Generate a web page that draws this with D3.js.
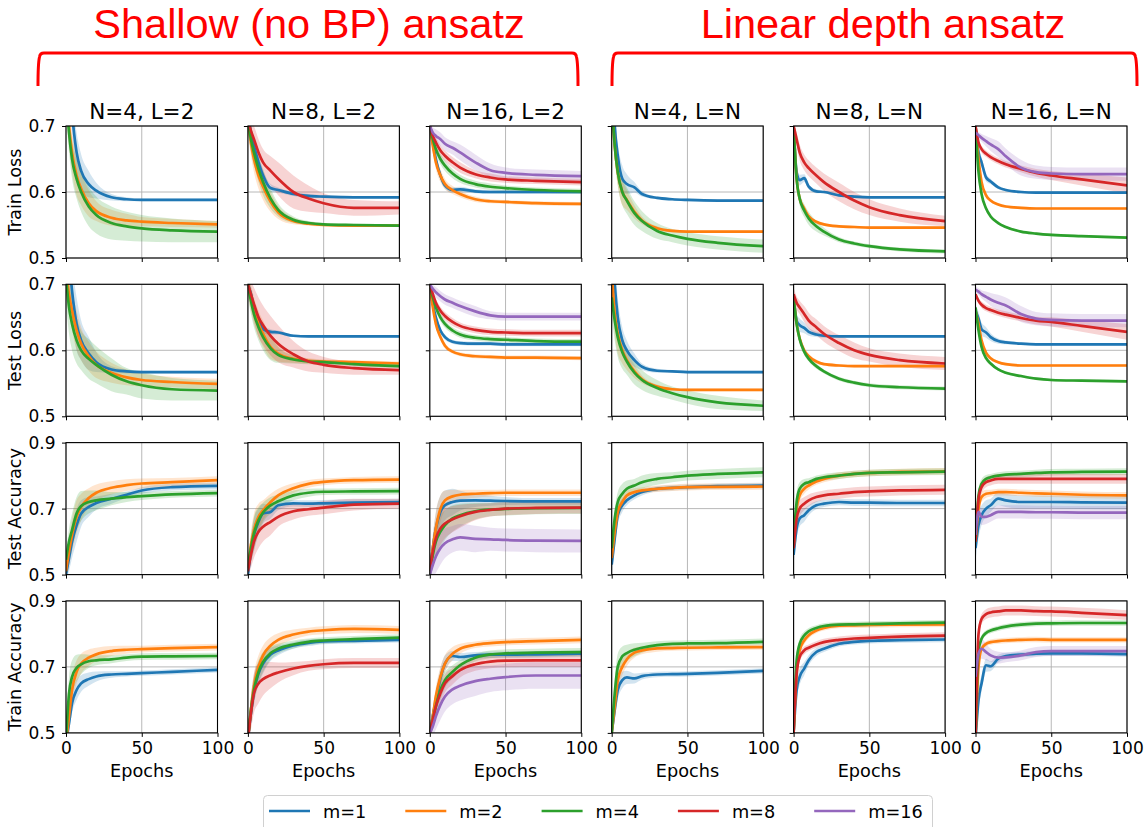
<!DOCTYPE html>
<html><head><meta charset="utf-8">
<script src="https://cdn.jsdelivr.net/npm/d3@7"></script>
<style>body{margin:0;background:#fff} svg{display:block}</style>
</head><body><svg id="c" width="1145" height="827"></svg>
<script>
// ---------------- DATA ----------------
const epochs = [0,2,4,7,10,15,20,30,40,50,70,100];
const mLabels = ["m=1","m=2","m=4","m=8","m=16"];
const colors = ["#1f77b4","#ff7f0e","#2ca02c","#d62728","#9467bd"];
const colTitles = ["N=4, L=2","N=8, L=2","N=16, L=2","N=4, L=N","N=8, L=N","N=16, L=N"];
const groupTitles = ["Shallow (no BP) ansatz","Linear depth ansatz"];
const rowLabels = ["Train Loss","Test Loss","Test Accuracy","Train Accuracy"];
const lossTicks = [0.5,0.6,0.7];
const accTicks = [0.5,0.7,0.9];
const epochTicks = [0,50,100];
const xLabel = "Epochs";

const trainLoss_c1 = [
 [0.85,0.78,0.72,0.66,0.632,0.612,0.602,0.592,0.589,0.588,0.588,0.588],
 [0.76,0.70,0.66,0.625,0.605,0.583,0.571,0.561,0.557,0.555,0.553,0.551],
 [0.75,0.69,0.65,0.62,0.60,0.578,0.565,0.553,0.548,0.545,0.542,0.540]];
const trainLoss_c2 = [
 [0.72,0.69,0.67,0.645,0.625,0.606,0.603,0.597,0.594,0.593,0.592,0.592],
 [0.71,0.675,0.65,0.625,0.608,0.585,0.569,0.556,0.552,0.550,0.549,0.549],
 [0.71,0.68,0.66,0.635,0.615,0.59,0.573,0.558,0.553,0.551,0.550,0.549],
 [0.71,0.693,0.68,0.66,0.645,0.632,0.62,0.60,0.59,0.583,0.576,0.576]];
const trainLoss_c3 = [
 [0.70,0.675,0.65,0.625,0.61,0.603,0.604,0.601,0.600,0.600,0.600,0.600],
 [0.70,0.67,0.645,0.625,0.612,0.603,0.597,0.589,0.586,0.585,0.583,0.582],
 [0.70,0.68,0.665,0.65,0.64,0.628,0.62,0.612,0.608,0.606,0.603,0.601],
 [0.70,0.685,0.675,0.663,0.655,0.645,0.637,0.627,0.622,0.619,0.617,0.615],
 [0.70,0.69,0.685,0.68,0.673,0.667,0.66,0.645,0.633,0.629,0.626,0.624]];
const trainLoss_c4 = [
 [0.80,0.70,0.655,0.62,0.612,0.607,0.597,0.591,0.589,0.588,0.587,0.587],
 [0.74,0.67,0.63,0.60,0.588,0.57,0.557,0.545,0.541,0.540,0.540,0.540],
 [0.74,0.67,0.63,0.60,0.587,0.568,0.556,0.541,0.534,0.529,0.523,0.518]];
const trainLoss_c5 = [
 [0.70,0.63,0.618,0.621,0.608,0.601,0.600,0.595,0.593,0.592,0.592,0.592],
 [0.70,0.62,0.59,0.575,0.563,0.555,0.551,0.548,0.547,0.546,0.546,0.546],
 [0.70,0.62,0.59,0.572,0.56,0.548,0.54,0.528,0.522,0.518,0.513,0.510],
 [0.70,0.68,0.66,0.645,0.636,0.625,0.615,0.60,0.587,0.577,0.565,0.556]];
const trainLoss_c6 = [
 [0.70,0.66,0.645,0.622,0.616,0.607,0.603,0.600,0.599,0.599,0.599,0.599],
 [0.70,0.65,0.615,0.595,0.587,0.581,0.578,0.576,0.575,0.575,0.575,0.575],
 [0.70,0.63,0.597,0.575,0.563,0.553,0.547,0.540,0.537,0.535,0.533,0.531],
 [0.70,0.675,0.665,0.658,0.653,0.647,0.642,0.635,0.629,0.625,0.619,0.610],
 [0.69,0.686,0.682,0.677,0.672,0.665,0.654,0.637,0.630,0.628,0.627,0.627]];

const testLoss_c1 = [
 [0.80,0.74,0.69,0.64,0.615,0.595,0.582,0.571,0.568,0.567,0.567,0.567],
 [0.72,0.685,0.66,0.63,0.61,0.591,0.578,0.566,0.559,0.555,0.552,0.549],
 [0.71,0.665,0.64,0.615,0.60,0.587,0.578,0.563,0.553,0.547,0.541,0.539]];
const testLoss_c2 = [
 [0.70,0.685,0.665,0.645,0.632,0.628,0.627,0.622,0.621,0.621,0.621,0.621],
 [0.70,0.68,0.66,0.64,0.625,0.605,0.595,0.587,0.584,0.583,0.582,0.580],
 [0.70,0.675,0.655,0.635,0.62,0.603,0.593,0.586,0.583,0.582,0.579,0.576],
 [0.70,0.685,0.67,0.65,0.638,0.622,0.61,0.594,0.583,0.578,0.573,0.570]];
const testLoss_c3 = [
 [0.70,0.67,0.65,0.63,0.62,0.613,0.611,0.61,0.61,0.609,0.609,0.609],
 [0.70,0.665,0.64,0.62,0.607,0.598,0.594,0.591,0.59,0.589,0.589,0.588],
 [0.70,0.68,0.665,0.65,0.64,0.63,0.624,0.619,0.617,0.616,0.614,0.613],
 [0.70,0.685,0.672,0.66,0.652,0.643,0.637,0.631,0.628,0.627,0.626,0.626],
 [0.70,0.693,0.688,0.682,0.677,0.672,0.667,0.659,0.653,0.651,0.651,0.651]];
const testLoss_c4 = [
 [0.78,0.70,0.65,0.615,0.60,0.585,0.575,0.569,0.568,0.567,0.567,0.567],
 [0.72,0.655,0.625,0.60,0.585,0.568,0.556,0.545,0.541,0.540,0.540,0.540],
 [0.68,0.645,0.62,0.597,0.583,0.566,0.555,0.543,0.535,0.529,0.521,0.516]];
const testLoss_c5 = [
 [0.68,0.645,0.638,0.634,0.628,0.624,0.622,0.621,0.621,0.621,0.621,0.621],
 [0.68,0.64,0.618,0.60,0.591,0.583,0.579,0.577,0.576,0.576,0.576,0.576],
 [0.68,0.64,0.617,0.598,0.587,0.576,0.568,0.557,0.551,0.547,0.544,0.542],
 [0.685,0.672,0.665,0.655,0.645,0.635,0.625,0.611,0.60,0.593,0.585,0.580]];
const testLoss_c6 = [
 [0.66,0.648,0.632,0.627,0.62,0.614,0.612,0.61,0.609,0.609,0.609,0.609],
 [0.66,0.64,0.615,0.596,0.588,0.582,0.579,0.577,0.577,0.577,0.577,0.577],
 [0.665,0.63,0.605,0.588,0.58,0.571,0.566,0.561,0.557,0.555,0.554,0.553],
 [0.685,0.675,0.669,0.664,0.661,0.657,0.654,0.649,0.645,0.643,0.637,0.628],
 [0.692,0.689,0.685,0.681,0.677,0.672,0.668,0.655,0.648,0.646,0.645,0.645]];

const testAcc_c1 = [
 [0.50,0.55,0.60,0.65,0.685,0.705,0.717,0.73,0.742,0.755,0.765,0.769],
 [0.51,0.57,0.62,0.675,0.705,0.732,0.748,0.763,0.771,0.776,0.780,0.786],
 [0.545,0.60,0.635,0.685,0.708,0.72,0.725,0.73,0.735,0.738,0.743,0.747]];
const testAcc_c2 = [
 [0.50,0.57,0.62,0.66,0.685,0.69,0.71,0.716,0.715,0.716,0.718,0.72],
 [0.52,0.59,0.635,0.675,0.695,0.72,0.74,0.762,0.775,0.781,0.786,0.788],
 [0.52,0.58,0.625,0.665,0.688,0.71,0.722,0.74,0.748,0.751,0.752,0.753],
 [0.51,0.56,0.60,0.63,0.645,0.66,0.675,0.692,0.698,0.703,0.712,0.715]];
const testAcc_c3 = [
 [0.51,0.58,0.64,0.69,0.71,0.72,0.724,0.725,0.724,0.723,0.722,0.722],
 [0.51,0.58,0.64,0.70,0.725,0.737,0.742,0.745,0.747,0.748,0.748,0.748],
 [0.50,0.56,0.60,0.63,0.65,0.67,0.68,0.692,0.697,0.699,0.701,0.702],
 [0.51,0.57,0.61,0.64,0.655,0.668,0.677,0.69,0.696,0.70,0.702,0.703],
 [0.50,0.53,0.555,0.58,0.595,0.607,0.613,0.608,0.607,0.605,0.603,0.602]];
const testAcc_c4 = [
 [0.53,0.61,0.68,0.71,0.725,0.74,0.75,0.76,0.763,0.765,0.768,0.77],
 [0.55,0.63,0.69,0.72,0.74,0.75,0.755,0.76,0.763,0.765,0.766,0.767],
 [0.58,0.67,0.72,0.745,0.76,0.77,0.78,0.79,0.795,0.80,0.805,0.81]];
const testAcc_c5 = [
 [0.56,0.64,0.67,0.68,0.695,0.71,0.715,0.72,0.718,0.718,0.717,0.717],
 [0.58,0.70,0.74,0.76,0.77,0.782,0.79,0.80,0.805,0.808,0.811,0.813],
 [0.60,0.72,0.76,0.775,0.78,0.79,0.795,0.80,0.805,0.808,0.81,0.812],
 [0.58,0.67,0.70,0.715,0.725,0.735,0.74,0.745,0.75,0.752,0.755,0.757]];
const testAcc_c6 = [
 [0.58,0.65,0.68,0.70,0.71,0.73,0.725,0.72,0.72,0.72,0.719,0.718],
 [0.60,0.70,0.735,0.745,0.747,0.75,0.75,0.748,0.746,0.745,0.742,0.74],
 [0.60,0.74,0.775,0.79,0.795,0.80,0.803,0.805,0.808,0.81,0.811,0.812],
 [0.60,0.73,0.765,0.78,0.785,0.79,0.79,0.79,0.79,0.79,0.79,0.79],
 [0.62,0.69,0.675,0.675,0.68,0.69,0.69,0.69,0.689,0.689,0.688,0.688]];

const trainAcc_c1 = [
 [0.47,0.53,0.59,0.63,0.65,0.663,0.671,0.677,0.679,0.681,0.685,0.691],
 [0.47,0.55,0.63,0.685,0.71,0.728,0.738,0.748,0.752,0.754,0.757,0.760],
 [0.48,0.62,0.67,0.697,0.708,0.717,0.72,0.723,0.728,0.731,0.732,0.733]];
const trainAcc_c2 = [
 [0.48,0.56,0.625,0.68,0.71,0.738,0.75,0.765,0.773,0.777,0.779,0.782],
 [0.48,0.57,0.64,0.70,0.735,0.765,0.782,0.798,0.807,0.811,0.815,0.812],
 [0.48,0.57,0.63,0.685,0.715,0.742,0.755,0.768,0.776,0.780,0.784,0.789],
 [0.48,0.56,0.62,0.65,0.663,0.675,0.683,0.695,0.703,0.708,0.712,0.712]];
const trainAcc_c3 = [
 [0.50,0.55,0.60,0.665,0.71,0.733,0.73,0.735,0.737,0.737,0.738,0.740],
 [0.50,0.55,0.61,0.67,0.71,0.74,0.755,0.767,0.772,0.775,0.778,0.782],
 [0.50,0.54,0.58,0.63,0.66,0.685,0.705,0.728,0.738,0.741,0.743,0.745],
 [0.50,0.54,0.58,0.62,0.65,0.672,0.69,0.708,0.716,0.719,0.72,0.72],
 [0.50,0.52,0.55,0.585,0.61,0.632,0.643,0.657,0.664,0.669,0.674,0.674]];
const trainAcc_c4 = [
 [0.50,0.57,0.63,0.66,0.668,0.665,0.672,0.677,0.678,0.679,0.682,0.688],
 [0.50,0.58,0.66,0.70,0.723,0.743,0.75,0.756,0.757,0.758,0.759,0.76],
 [0.50,0.62,0.70,0.732,0.742,0.752,0.758,0.766,0.77,0.771,0.772,0.776]];
const trainAcc_c5 = [
 [0.50,0.63,0.67,0.695,0.72,0.745,0.755,0.77,0.776,0.779,0.781,0.783],
 [0.50,0.68,0.75,0.78,0.796,0.81,0.818,0.825,0.826,0.827,0.828,0.829],
 [0.50,0.72,0.77,0.795,0.808,0.818,0.824,0.828,0.829,0.83,0.832,0.834],
 [0.50,0.68,0.73,0.75,0.758,0.768,0.775,0.782,0.786,0.788,0.792,0.795]];
const trainAcc_c6 = [
 [0.48,0.60,0.65,0.705,0.702,0.725,0.733,0.737,0.74,0.741,0.741,0.739],
 [0.48,0.70,0.755,0.77,0.775,0.778,0.78,0.782,0.783,0.782,0.782,0.782],
 [0.48,0.75,0.785,0.803,0.81,0.817,0.822,0.828,0.831,0.832,0.833,0.833],
 [0.48,0.80,0.845,0.86,0.865,0.868,0.871,0.871,0.869,0.868,0.864,0.857],
 [0.67,0.74,0.755,0.745,0.735,0.728,0.729,0.735,0.745,0.748,0.748,0.748]];

const trainLossBand_c1 = [
 [0.03,0.03,0.03,0.03,0.025,0.02,0.012,0.005,0.003,0.002,0.002,0.002],
 [0.03,0.03,0.03,0.03,0.025,0.02,0.015,0.012,0.01,0.007,0.006,0.005],
 [0.03,0.03,0.03,0.03,0.03,0.03,0.028,0.025,0.022,0.02,0.018,0.016]];
const trainLossBand_c2 = [
 [0.01,0.01,0.01,0.01,0.008,0.006,0.004,0.003,0.003,0.002,0.002,0.002],
 [0.02,0.02,0.02,0.02,0.02,0.015,0.01,0.005,0.003,0.002,0.002,0.002],
 [0.02,0.02,0.02,0.02,0.02,0.015,0.01,0.005,0.003,0.002,0.002,0.002],
 [0.01,0.015,0.02,0.02,0.02,0.022,0.025,0.025,0.02,0.015,0.012,0.01]];
const trainLossBand_c3 = [
 [0.004,0.005,0.006,0.006,0.005,0.004,0.004,0.003,0.003,0.003,0.003,0.003],
 [0.01,0.01,0.01,0.01,0.008,0.006,0.005,0.004,0.003,0.003,0.003,0.003],
 [0.005,0.006,0.007,0.008,0.008,0.007,0.006,0.005,0.005,0.004,0.004,0.004],
 [0.005,0.005,0.008,0.008,0.008,0.008,0.008,0.006,0.006,0.005,0.005,0.005],
 [0.005,0.008,0.01,0.01,0.01,0.01,0.012,0.012,0.01,0.008,0.008,0.008]];
const trainLossBand_c4 = [
 [0.03,0.03,0.02,0.02,0.015,0.008,0.004,0.002,0.002,0.002,0.002,0.002],
 [0.02,0.02,0.02,0.02,0.015,0.01,0.006,0.003,0.002,0.002,0.002,0.002],
 [0.02,0.02,0.02,0.02,0.02,0.018,0.015,0.012,0.01,0.01,0.01,0.01]];
const trainLossBand_c5 = [
 [0.01,0.01,0.008,0.006,0.004,0.003,0.002,0.002,0.002,0.002,0.002,0.002],
 [0.005,0.005,0.005,0.004,0.003,0.002,0.002,0.002,0.002,0.002,0.002,0.002],
 [0.01,0.01,0.01,0.01,0.01,0.008,0.006,0.004,0.003,0.003,0.003,0.003],
 [0.005,0.01,0.012,0.012,0.012,0.012,0.013,0.014,0.013,0.012,0.01,0.008]];
const trainLossBand_c6 = [
 [0.01,0.01,0.008,0.006,0.004,0.003,0.002,0.002,0.002,0.002,0.002,0.002],
 [0.003,0.003,0.003,0.002,0.002,0.002,0.002,0.002,0.002,0.002,0.002,0.002],
 [0.003,0.003,0.003,0.002,0.002,0.002,0.002,0.002,0.002,0.002,0.002,0.002],
 [0.003,0.004,0.005,0.005,0.005,0.005,0.005,0.005,0.006,0.007,0.009,0.012],
 [0.005,0.005,0.006,0.008,0.01,0.012,0.012,0.012,0.01,0.01,0.01,0.01]];

const testLossBand_c1 = [
 [0.04,0.04,0.04,0.04,0.03,0.025,0.015,0.005,0.003,0.002,0.002,0.002],
 [0.03,0.03,0.03,0.03,0.025,0.022,0.02,0.015,0.012,0.01,0.008,0.008],
 [0.04,0.04,0.04,0.035,0.03,0.03,0.028,0.025,0.02,0.02,0.017,0.015]];
const testLossBand_c2 = [
 [0.01,0.01,0.01,0.008,0.006,0.004,0.003,0.002,0.002,0.002,0.002,0.002],
 [0.02,0.02,0.02,0.02,0.02,0.018,0.012,0.006,0.004,0.003,0.003,0.003],
 [0.02,0.02,0.02,0.02,0.02,0.018,0.012,0.006,0.004,0.003,0.003,0.003],
 [0.01,0.02,0.025,0.03,0.03,0.03,0.028,0.02,0.015,0.012,0.01,0.007]];
const testLossBand_c3 = [
 [0.005,0.005,0.005,0.005,0.004,0.003,0.003,0.003,0.003,0.003,0.003,0.003],
 [0.006,0.006,0.006,0.005,0.004,0.003,0.003,0.003,0.003,0.003,0.003,0.003],
 [0.005,0.006,0.006,0.006,0.006,0.005,0.005,0.004,0.004,0.004,0.004,0.004],
 [0.005,0.006,0.006,0.006,0.006,0.006,0.005,0.005,0.005,0.005,0.005,0.005],
 [0.005,0.006,0.008,0.008,0.008,0.008,0.008,0.008,0.006,0.006,0.006,0.006]];
const testLossBand_c4 = [
 [0.04,0.04,0.03,0.02,0.015,0.01,0.005,0.003,0.002,0.002,0.002,0.002],
 [0.03,0.03,0.03,0.02,0.015,0.01,0.006,0.003,0.002,0.002,0.002,0.002],
 [0.03,0.03,0.03,0.025,0.02,0.018,0.015,0.012,0.01,0.01,0.01,0.008]];
const testLossBand_c5 = [
 [0.01,0.01,0.01,0.008,0.006,0.004,0.003,0.002,0.002,0.002,0.002,0.002],
 [0.005,0.005,0.005,0.004,0.003,0.003,0.002,0.002,0.002,0.002,0.002,0.002],
 [0.005,0.005,0.005,0.005,0.004,0.004,0.003,0.003,0.003,0.003,0.003,0.003],
 [0.01,0.01,0.01,0.012,0.012,0.012,0.012,0.012,0.012,0.01,0.01,0.01]];
const testLossBand_c6 = [
 [0.01,0.01,0.01,0.008,0.006,0.004,0.003,0.002,0.002,0.002,0.002,0.002],
 [0.004,0.004,0.004,0.004,0.003,0.002,0.002,0.002,0.002,0.002,0.002,0.002],
 [0.004,0.004,0.004,0.004,0.003,0.002,0.002,0.002,0.002,0.002,0.002,0.002],
 [0.003,0.004,0.005,0.005,0.005,0.005,0.005,0.005,0.006,0.007,0.009,0.012],
 [0.005,0.005,0.006,0.008,0.01,0.012,0.012,0.012,0.01,0.01,0.01,0.01]];

const testAccBand_c1 = [
 [0.02,0.04,0.05,0.05,0.04,0.03,0.02,0.015,0.01,0.01,0.01,0.01],
 [0.02,0.04,0.05,0.05,0.04,0.03,0.025,0.02,0.018,0.015,0.013,0.012],
 [0.02,0.04,0.05,0.05,0.045,0.035,0.03,0.02,0.015,0.012,0.01,0.01]];
const testAccBand_c2 = [
 [0.02,0.04,0.05,0.04,0.03,0.02,0.015,0.01,0.01,0.01,0.01,0.01],
 [0.02,0.04,0.05,0.04,0.03,0.025,0.02,0.015,0.012,0.01,0.01,0.01],
 [0.02,0.04,0.05,0.04,0.03,0.025,0.02,0.015,0.012,0.01,0.01,0.01],
 [0.02,0.04,0.05,0.05,0.045,0.04,0.03,0.025,0.02,0.02,0.018,0.015]];
const testAccBand_c3 = [
 [0.02,0.04,0.05,0.05,0.045,0.04,0.03,0.02,0.015,0.012,0.01,0.01],
 [0.02,0.04,0.05,0.04,0.03,0.02,0.015,0.012,0.01,0.01,0.01,0.01],
 [0.02,0.04,0.05,0.05,0.045,0.04,0.035,0.025,0.02,0.02,0.018,0.018],
 [0.02,0.04,0.05,0.05,0.045,0.04,0.035,0.025,0.02,0.02,0.018,0.018],
 [0.02,0.04,0.05,0.05,0.045,0.04,0.04,0.04,0.035,0.035,0.035,0.035]];
const testAccBand_c4 = [
 [0.03,0.03,0.03,0.02,0.015,0.012,0.01,0.008,0.008,0.008,0.008,0.008],
 [0.03,0.03,0.03,0.02,0.015,0.012,0.01,0.01,0.01,0.01,0.01,0.01],
 [0.03,0.03,0.03,0.03,0.025,0.02,0.02,0.018,0.015,0.015,0.015,0.015]];
const testAccBand_c5 = [
 [0.03,0.03,0.025,0.02,0.015,0.012,0.01,0.01,0.01,0.01,0.01,0.01],
 [0.03,0.03,0.02,0.015,0.012,0.01,0.01,0.01,0.01,0.01,0.01,0.01],
 [0.03,0.03,0.02,0.015,0.012,0.01,0.01,0.01,0.01,0.01,0.01,0.01],
 [0.03,0.03,0.025,0.02,0.018,0.015,0.015,0.015,0.015,0.015,0.015,0.015]];
const testAccBand_c6 = [
 [0.04,0.04,0.03,0.025,0.02,0.02,0.02,0.02,0.02,0.02,0.02,0.02],
 [0.03,0.02,0.015,0.012,0.01,0.01,0.01,0.01,0.01,0.01,0.01,0.01],
 [0.03,0.02,0.015,0.012,0.01,0.01,0.01,0.01,0.01,0.01,0.01,0.01],
 [0.03,0.02,0.018,0.015,0.015,0.015,0.015,0.015,0.015,0.015,0.015,0.015],
 [0.03,0.03,0.025,0.022,0.02,0.02,0.02,0.02,0.02,0.02,0.02,0.02]];

const trainAccBand_c1 = [
 [0.02,0.03,0.03,0.03,0.025,0.02,0.015,0.01,0.008,0.008,0.008,0.008],
 [0.03,0.04,0.04,0.035,0.03,0.025,0.02,0.015,0.012,0.01,0.01,0.01],
 [0.03,0.05,0.05,0.04,0.03,0.02,0.015,0.012,0.01,0.01,0.01,0.01]];
const trainAccBand_c2 = [
 [0.02,0.04,0.04,0.035,0.03,0.02,0.015,0.01,0.01,0.008,0.008,0.008],
 [0.02,0.04,0.04,0.035,0.03,0.025,0.02,0.015,0.012,0.012,0.012,0.012],
 [0.02,0.04,0.04,0.035,0.03,0.02,0.015,0.012,0.01,0.01,0.01,0.01],
 [0.02,0.05,0.06,0.06,0.05,0.04,0.03,0.02,0.015,0.015,0.015,0.015]];
const trainAccBand_c3 = [
 [0.02,0.03,0.03,0.03,0.025,0.015,0.012,0.01,0.01,0.01,0.01,0.01],
 [0.02,0.03,0.03,0.03,0.025,0.02,0.015,0.01,0.01,0.01,0.01,0.01],
 [0.02,0.03,0.03,0.03,0.025,0.02,0.015,0.012,0.012,0.012,0.012,0.012],
 [0.02,0.03,0.03,0.03,0.028,0.025,0.022,0.02,0.02,0.02,0.02,0.02],
 [0.02,0.03,0.04,0.045,0.045,0.045,0.045,0.045,0.04,0.04,0.04,0.04]];
const trainAccBand_c4 = [
 [0.02,0.03,0.03,0.025,0.02,0.015,0.01,0.008,0.008,0.008,0.008,0.008],
 [0.02,0.03,0.03,0.025,0.02,0.015,0.012,0.01,0.008,0.008,0.008,0.008],
 [0.02,0.04,0.04,0.03,0.025,0.02,0.015,0.012,0.01,0.01,0.01,0.01]];
const trainAccBand_c5 = [
 [0.02,0.03,0.025,0.02,0.015,0.012,0.01,0.008,0.008,0.008,0.008,0.008],
 [0.02,0.02,0.015,0.012,0.01,0.008,0.008,0.008,0.008,0.008,0.008,0.008],
 [0.02,0.02,0.015,0.012,0.01,0.008,0.008,0.008,0.008,0.008,0.008,0.008],
 [0.02,0.02,0.015,0.012,0.01,0.01,0.01,0.01,0.01,0.01,0.01,0.01]];
const trainAccBand_c6 = [
 [0.02,0.03,0.025,0.02,0.015,0.012,0.01,0.008,0.008,0.008,0.008,0.008],
 [0.02,0.015,0.01,0.008,0.008,0.008,0.008,0.008,0.008,0.008,0.008,0.008],
 [0.02,0.015,0.01,0.008,0.008,0.008,0.008,0.008,0.008,0.008,0.008,0.008],
 [0.02,0.02,0.015,0.015,0.015,0.015,0.015,0.015,0.015,0.015,0.015,0.015],
 [0.03,0.03,0.03,0.025,0.02,0.018,0.015,0.015,0.015,0.015,0.015,0.015]];

const colSeries = [[0,1,2],[0,1,2,3],[0,1,2,3,4],[0,1,2],[0,1,2,3],[0,1,2,3,4]];

// ---------------- LAYOUT ----------------
const rows = [
  {label: rowLabels[0], domain:[0.5,0.7], ticks: lossTicks,
   data:[trainLoss_c1,trainLoss_c2,trainLoss_c3,trainLoss_c4,trainLoss_c5,trainLoss_c6],
   band:[trainLossBand_c1,trainLossBand_c2,trainLossBand_c3,trainLossBand_c4,trainLossBand_c5,trainLossBand_c6]},
  {label: rowLabels[1], domain:[0.5,0.7], ticks: lossTicks,
   data:[testLoss_c1,testLoss_c2,testLoss_c3,testLoss_c4,testLoss_c5,testLoss_c6],
   band:[testLossBand_c1,testLossBand_c2,testLossBand_c3,testLossBand_c4,testLossBand_c5,testLossBand_c6]},
  {label: rowLabels[2], domain:[0.5,0.9], ticks: accTicks,
   data:[testAcc_c1,testAcc_c2,testAcc_c3,testAcc_c4,testAcc_c5,testAcc_c6],
   band:[testAccBand_c1,testAccBand_c2,testAccBand_c3,testAccBand_c4,testAccBand_c5,testAccBand_c6]},
  {label: rowLabels[3], domain:[0.5,0.9], ticks: accTicks,
   data:[trainAcc_c1,trainAcc_c2,trainAcc_c3,trainAcc_c4,trainAcc_c5,trainAcc_c6],
   band:[trainAccBand_c1,trainAccBand_c2,trainAccBand_c3,trainAccBand_c4,trainAccBand_c5,trainAccBand_c6]}
];

const PX0 = 66, PDX = 181.9, PW = 151.5;
const PY0 = 126, PDY = 158.3, PH = 132;
const FONT = "DejaVu Sans, sans-serif";

const svg = d3.select("#c");
svg.append("rect").attr("width",1145).attr("height",827).attr("fill","#fff");

const groups = [
  {title: groupTitles[0], cx: 309, x1: 38, x2: 578},
  {title: groupTitles[1], cx: 883, x1: 612, x2: 1137}
];
groups.forEach(g => {
  svg.append("text").attr("x", g.cx).attr("y", 37.5).attr("text-anchor","middle")
    .attr("font-family","Liberation Sans, Arial, sans-serif").attr("font-size", 41.5)
    .attr("fill","#ff0000").text(g.title);
  const yTop = 53, yBot = 86, r = 4;
  const p = d3.path();
  p.moveTo(g.x1, yBot);
  p.quadraticCurveTo(g.x1, yTop + 10, g.x1 + 1.5, yTop + r);
  p.quadraticCurveTo(g.x1 + 2, yTop, g.x1 + r + 2, yTop);
  p.lineTo(g.x2 - r - 2, yTop);
  p.quadraticCurveTo(g.x2 - 2, yTop, g.x2 - 1.5, yTop + r);
  p.quadraticCurveTo(g.x2, yTop + 10, g.x2, yBot);
  svg.append("path").attr("d", p.toString()).attr("fill","none")
    .attr("stroke","#ff0000").attr("stroke-width", 3);
});

const defs = svg.append("defs");

rows.forEach((row, r) => {
  colTitles.forEach((title, c) => {
    const left = PX0 + c*PDX, top = PY0 + r*PDY;
    const x = d3.scaleLinear().domain([0,100]).range([left, left+PW]);
    const y = d3.scaleLinear().domain(row.domain).range([top+PH, top]);
    const g = svg.append("g");

    g.selectAll(".gx").data(epochTicks).enter().append("line")
      .attr("x1", d=>x(d)).attr("x2", d=>x(d)).attr("y1", top).attr("y2", top+PH)
      .attr("stroke","#b0b0b0").attr("stroke-width",0.9);
    g.selectAll(".gy").data(row.ticks).enter().append("line")
      .attr("x1", left).attr("x2", left+PW).attr("y1", d=>y(d)).attr("y2", d=>y(d))
      .attr("stroke","#b0b0b0").attr("stroke-width",0.9);

    const cid = `clip-${r}-${c}`;
    defs.append("clipPath").attr("id", cid).append("rect")
      .attr("x", left).attr("y", top).attr("width", PW).attr("height", PH);
    const plot = g.append("g").attr("clip-path", `url(#${cid})`);

    const series = colSeries[c];
    const means = row.data[c], bands = row.band[c];
    const area = d3.area().curve(d3.curveMonotoneX)
      .x(d=>x(d.e)).y0(d=>y(d.v - d.b)).y1(d=>y(d.v + d.b));
    const line = d3.line().curve(d3.curveMonotoneX).x(d=>x(d.e)).y(d=>y(d.v));

    series.forEach((mi, k) => {
      const pts = epochs.map((e,i)=>({e, v: means[k][i], b: bands[k][i]}));
      plot.append("path").attr("d", area(pts)).attr("fill", colors[mi]).attr("fill-opacity", 0.2);
    });
    series.forEach((mi, k) => {
      const pts = epochs.map((e,i)=>({e, v: means[k][i], b: bands[k][i]}));
      plot.append("path").attr("d", line(pts)).attr("fill","none")
        .attr("stroke", colors[mi]).attr("stroke-width", 2.7).attr("stroke-linejoin","round");
    });

    const ax = d3.axisBottom(x).tickValues(epochTicks).tickSize(4).tickPadding(5)
      .tickFormat(r === rows.length-1 ? d3.format("d") : () => "");
    const gx = g.append("g").attr("transform", `translate(0,${top+PH})`).call(ax);
    const ay = d3.axisLeft(y).tickValues(row.ticks).tickSize(4).tickPadding(6.5)
      .tickFormat(c === 0 ? d3.format(".1f") : () => "");
    const gy = g.append("g").attr("transform", `translate(${left},0)`).call(ay);
    [gx, gy].forEach(a => {
      a.select(".domain").remove();
      a.selectAll(".tick line").attr("stroke","#000").attr("stroke-width",1);
      a.selectAll("text").attr("font-family", FONT).attr("font-size", 17).attr("fill","#000");
    });

    g.append("rect").attr("x", left).attr("y", top).attr("width", PW).attr("height", PH)
      .attr("fill","none").attr("stroke","#000").attr("stroke-width",1.1);

    if (r === 0) {
      svg.append("text").attr("x", left + PW/2).attr("y", 119).attr("text-anchor","middle")
        .attr("font-family", FONT).attr("font-size", 21.5).attr("fill","#000").text(title);
    }
    if (r === rows.length-1) {
      svg.append("text").attr("x", left + PW/2).attr("y", 777).attr("text-anchor","middle")
        .attr("font-family", FONT).attr("font-size", 17.7).attr("fill","#000").text(xLabel);
    }
    if (c === 0) {
      svg.append("text").attr("transform", `translate(21,${top+PH/2}) rotate(-90)`)
        .attr("text-anchor","middle").attr("font-family", FONT).attr("font-size", 17.7)
        .attr("fill","#000").text(row.label);
    }
  });
});

const leg = svg.append("g");
leg.append("rect").attr("x", 263.5).attr("y", 795.5).attr("width", 669).attr("height", 45)
  .attr("rx", 4).attr("fill","#fff").attr("stroke","#d0d0d0").attr("stroke-width",1);
mLabels.forEach((lab, i) => {
  const lx = 269 + i*136.3;
  leg.append("line").attr("x1", lx).attr("x2", lx+41).attr("y1", 811).attr("y2", 811)
    .attr("stroke", colors[i]).attr("stroke-width", 2.7);
  leg.append("text").attr("x", lx + 54).attr("y", 818).attr("font-family", FONT)
    .attr("font-size", 17.7).attr("fill","#000").text(lab);
});
</script></body></html>
